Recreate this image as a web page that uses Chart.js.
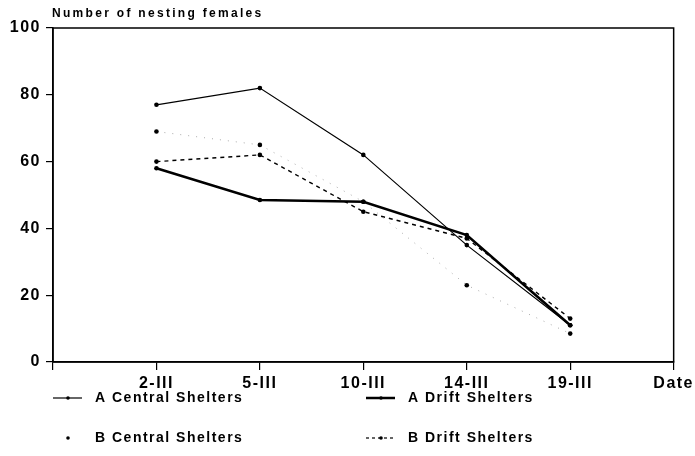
<!DOCTYPE html>
<html>
<head>
<meta charset="utf-8">
<script src="https://cdn.jsdelivr.net/npm/chart.js@4/dist/chart.umd.min.js"></script>
<style>
    html, body { margin: 0; padding: 0; background: #fff; }
    #wrap { width: 695px; height: 456px; position: relative; }
</style>
</head>
<body>
<div id="wrap"><canvas id="chart"></canvas></div>
<script>
// dati
const dates = ['2-III', '5-III', '10-III', '14-III', '19-III'];
const aCentral = [77, 82, 62, 35, 11];
const aDrift = [58, 48.5, 48, 38, 11];
const bCentral = [69, 65, 48, 23, 8.5];
const bDrift = [60, 62, 45, 37, 13];
const yTicks = [0, 20, 40, 60, 80, 100];

const FONT = '"Liberation Sans", Arial, sans-serif';

function punti(valori) {
    return valori.map((v, i) => ({ x: i + 1, y: v }));
}

// titolo, cornice e legenda disegnati a mano
const extraPlugin = {
    id: 'extra',
    beforeDraw(chart) {
        chart.ctx.letterSpacing = '1.5px';
    },
    afterDraw(chart) {
        const ctx = chart.ctx;
        const a = chart.chartArea;
        ctx.save();
        ctx.strokeStyle = '#000';
        ctx.lineWidth = 1.5;
        ctx.strokeRect(a.left, a.top, a.right - a.left, a.bottom - a.top);

        ctx.fillStyle = '#000';
        ctx.letterSpacing = '2.3px';
        ctx.font = 'bold 12px ' + FONT;
        ctx.textBaseline = 'middle';
        ctx.textAlign = 'left';
        ctx.fillText('Number of nesting females', 52, 14);

        const items = [
            { label: 'A Central Shelters', x: 53, y: 398, width: 1.2, dash: [], line: true },
            { label: 'A Drift Shelters', x: 366, y: 398, width: 2.5, dash: [], line: true },
            { label: 'B Central Shelters', x: 53, y: 438, width: 1, dash: [], line: false },
            { label: 'B Drift Shelters', x: 366, y: 438, width: 1.2, dash: [3, 3], line: true }
        ];
        ctx.letterSpacing = '1.5px';
        ctx.font = 'bold 14px ' + FONT;
        items.forEach(it => {
            if (it.line) {
                ctx.beginPath();
                ctx.setLineDash(it.dash);
                ctx.lineWidth = it.width;
                ctx.moveTo(it.x, it.y);
                ctx.lineTo(it.x + 29, it.y);
                ctx.stroke();
                ctx.setLineDash([]);
            }
            ctx.beginPath();
            ctx.arc(it.x + 15, it.y, 1.8, 0, Math.PI * 2);
            ctx.fill();
            ctx.fillText(it.label, it.x + 42, it.y);
        });
        ctx.restore();
    }
};

function generaGrafico() {
    const canvas = document.getElementById('chart');
    canvas.width = 695;
    canvas.height = 456;

    const comune = {
        borderColor: '#000',
        pointBackgroundColor: '#000',
        pointBorderColor: '#000',
        pointRadius: 2.3,
        pointBorderWidth: 0,
        tension: 0,
        fill: false
    };

    new Chart(canvas.getContext('2d'), {
        type: 'line',
        data: {
            datasets: [
                Object.assign({}, comune, { label: 'A Central Shelters', data: punti(aCentral), borderWidth: 1.2 }),
                Object.assign({}, comune, { label: 'A Drift Shelters', data: punti(aDrift), borderWidth: 2.6 }),
                Object.assign({}, comune, { label: 'B Central Shelters', data: punti(bCentral), borderWidth: 1, borderColor: '#aaa', borderDash: [1, 7] }),
                Object.assign({}, comune, { label: 'B Drift Shelters', data: punti(bDrift), borderWidth: 1.4, borderDash: [4, 4] })
            ]
        },
        options: {
            responsive: false,
            animation: false,
            layout: { padding: { top: 28, right: 18, bottom: 54, left: 0 } },
            plugins: {
                legend: { display: false },
                tooltip: { enabled: false }
            },
            scales: {
                x: {
                    type: 'linear',
                    min: 0,
                    max: 6,
                    afterFit: s => { s.height = 40; },
                    afterBuildTicks: s => { s.ticks = [0, 1, 2, 3, 4, 5, 6].map(v => ({ value: v })); },
                    ticks: {
                        color: '#000',
                        font: { family: FONT, size: 16, weight: 'bold' },
                        padding: 4,
                        maxRotation: 0,
                        autoSkip: false,
                        callback: v => v === 0 ? '' : (v === 6 ? 'Date' : dates[v - 1])
                    },
                    grid: { drawOnChartArea: false, drawTicks: true, tickLength: 8, color: '#000', lineWidth: 1.2 },
                    border: { color: '#000', width: 1.5 }
                },
                y: {
                    min: 0,
                    max: 100,
                    afterFit: s => { s.width = 53; },
                    afterBuildTicks: s => { s.ticks = yTicks.map(v => ({ value: v })); },
                    ticks: {
                        color: '#000',
                        font: { family: FONT, size: 16, weight: 'bold' },
                        padding: 5
                    },
                    grid: { drawOnChartArea: false, drawTicks: true, tickLength: 7, color: '#000', lineWidth: 1.2 },
                    border: { color: '#000', width: 1.5 }
                }
            }
        },
        plugins: [extraPlugin]
    });
}

document.addEventListener('DOMContentLoaded', generaGrafico);
</script>
</body>
</html>
